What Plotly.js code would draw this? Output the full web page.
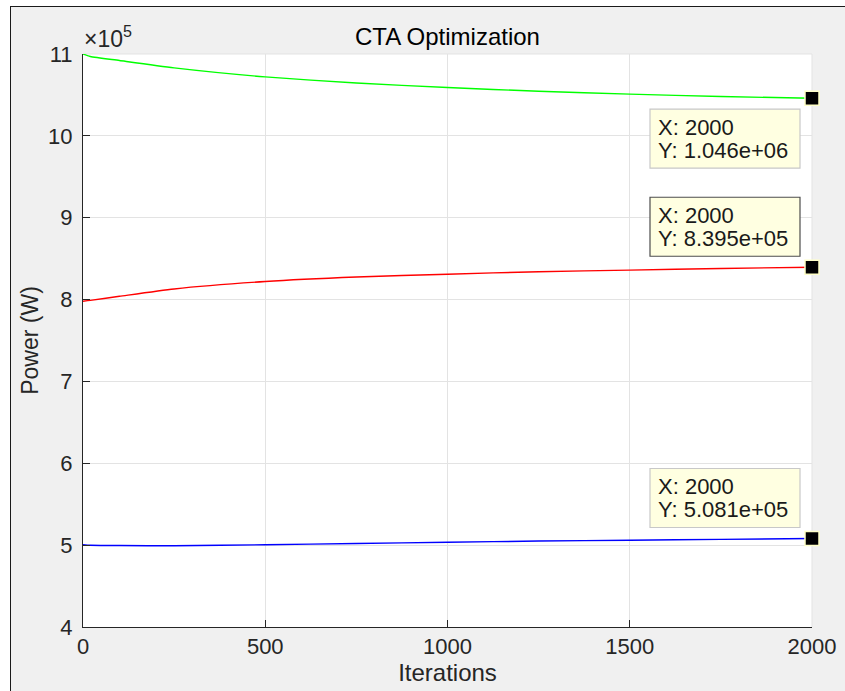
<!DOCTYPE html>
<html>
<head>
<meta charset="utf-8">
<script src="https://cdn.plot.ly/plotly-3.0.1.min.js"></script>
<style>
  html, body { margin: 0; padding: 0; background: #ffffff; width: 845px; height: 691px; overflow: hidden; }
  #frame { position: absolute; left: 10px; top: 6px; width: 835px; height: 685px;
           border-top: 1.5px solid #1a1a1a; border-left: 1.5px solid #1a1a1a; box-sizing: border-box; }
  #chart { position: absolute; left: 0; top: 0; }
</style>
</head>
<body>
<div id="frame"><div id="chart"></div></div>
<script>
// Iteration numbers at which the power of each unit was sampled
const iterations = [0, 20, 100, 250, 500, 750, 1000, 1250, 1500, 1750, 2000];

// Power (W) of the three units over the optimisation run
const powerGreen = [1100000, 1097000, 1092000, 1083000, 1072000, 1064500, 1059000, 1054500, 1051000, 1048000, 1046000];
const powerRed   = [798000, 799000, 804000, 813000, 822000, 827500, 831000, 834000, 836000, 838000, 839500];
const powerBlue  = [500500, 499800, 499500, 499200, 500500, 502000, 503500, 505000, 506000, 507000, 508100];

// Y axis ticks, shown in units of 10^5 W
const yTickVals = [400000, 500000, 600000, 700000, 800000, 900000, 1000000, 1100000];
const yTickText = ['4', '5', '6', '7', '8', '9', '10', '11'];
const xTickVals = [0, 500, 1000, 1500, 2000];

const FONT = 'Liberation Sans, Arial, Helvetica, sans-serif';
const AX = '#262626';

function fmtExp(v) {
  // "%.3e" with a two-digit exponent
  return v.toExponential(3).replace(/e([+-])(\d)$/, 'e$10$2');
}

const series = [
  { y: powerGreen, color: '#00ff00' },
  { y: powerRed,   color: '#ff0000' },
  { y: powerBlue,  color: '#0000ff' }
];

const traces = series.map(s => ({
  x: iterations, y: s.y, type: 'scatter', mode: 'lines',
  line: { color: s.color, width: 1.4, shape: 'spline', smoothing: 0.6 },
  hoverinfo: 'skip', showlegend: false
}));

// Data-tip markers at the last iteration
const lastX = iterations[iterations.length - 1];
traces.push({
  x: series.map(() => lastX),
  y: series.map(s => s.y[s.y.length - 1]),
  type: 'scatter', mode: 'markers', cliponaxis: false,
  marker: { symbol: 'square', size: 14, color: '#000000', line: { color: '#ffffc8', width: 1.5 } },
  hoverinfo: 'skip', showlegend: false
});

// Data-tip boxes: one below the green mark, the others above their marks.
// dir = -1 puts the box under the point, +1 above it (pixel offsets).
const tips = [
  { dir: -1, border: '#c8c8c8' },
  { dir:  1, border: '#4d4d4d' },
  { dir:  1, border: '#c8c8c8' }
];

const shapes = [
  // light box edges on the top and right of the axes
  { type: 'line', xref: 'paper', yref: 'paper', x0: 0, x1: 1, y0: 1, y1: 1, line: { color: '#e3e3e3', width: 1 }, layer: 'below' },
  { type: 'line', xref: 'paper', yref: 'paper', x0: 1, x1: 1, y0: 0, y1: 1, line: { color: '#e3e3e3', width: 1 }, layer: 'below' }
];
const annotations = [];

series.forEach((s, i) => {
  const yv = s.y[s.y.length - 1];
  const d = tips[i].dir;
  shapes.push({
    type: 'rect', xref: 'x', yref: 'y',
    xsizemode: 'pixel', xanchor: lastX, x0: -162, x1: -12,
    ysizemode: 'pixel', yanchor: yv, y0: d * 11, y1: d * 70,
    fillcolor: '#ffffe1', line: { color: tips[i].border, width: 1.2 }, layer: 'above'
  });
  const lines = ['X: ' + lastX, 'Y: ' + fmtExp(yv)];
  // upper line sits 18 px below the box top, lower line 18 px above the box bottom
  const offs = d < 0 ? [-29, -52] : [52, 29];
  lines.forEach((t, k) => annotations.push({
    x: lastX, y: yv, xref: 'x', yref: 'y',
    xanchor: 'left', yanchor: 'middle', xshift: -156, yshift: offs[k],
    text: t, align: 'left', showarrow: false,
    font: { family: FONT, size: 22, color: '#1a1a1a' }
  }));
});

// Axis exponent label
annotations.push({
  xref: 'paper', yref: 'paper', x: 0, y: 1, xanchor: 'left', yanchor: 'bottom',
  xshift: -1, yshift: 0,
  text: '×10<sup>5</sup>', showarrow: false,
  font: { family: FONT, size: 23, color: AX }
});

const W = 834, H = 684;
const layout = {
  width: W, height: H,
  paper_bgcolor: '#f0f0f0', plot_bgcolor: '#ffffff',
  margin: { l: 72, r: 33, t: 47, b: 64 },
  font: { family: FONT, color: AX },
  title: {
    text: 'CTA Optimization', font: { family: FONT, size: 24, color: '#000000' },
    x: 0.5, xref: 'paper', xanchor: 'center', y: 1 - 30 / H, yref: 'container', yanchor: 'middle'
  },
  xaxis: {
    range: [0, 2000], tickvals: xTickVals, ticktext: xTickVals.map(String),
    ticks: 'inside', ticklen: 7, tickcolor: AX, tickwidth: 1,
    showline: true, linecolor: AX, linewidth: 1, mirror: false,
    showgrid: true, gridcolor: '#e3e3e3', gridwidth: 1, zeroline: false,
    tickfont: { family: FONT, size: 22, color: AX },
    title: { text: 'Iterations', font: { family: FONT, size: 24, color: AX }, standoff: 1 },
    automargin: false, fixedrange: true
  },
  yaxis: {
    range: [400000, 1100000], tickvals: yTickVals, ticktext: yTickText,
    ticks: 'inside', ticklen: 7, tickcolor: AX, tickwidth: 1,
    showline: true, linecolor: AX, linewidth: 1, mirror: false,
    showgrid: true, gridcolor: '#e3e3e3', gridwidth: 1, zeroline: false,
    tickfont: { family: FONT, size: 22, color: AX },
    ticklabelstandoff: 5,
    title: { text: 'Power (W)', font: { family: FONT, size: 23, color: AX }, standoff: 3 },
    automargin: false, fixedrange: true
  },
  shapes: shapes,
  annotations: annotations,
  showlegend: false
};

Plotly.newPlot('chart', traces, layout, { displayModeBar: false, staticPlot: true });
</script>
</body>
</html>
